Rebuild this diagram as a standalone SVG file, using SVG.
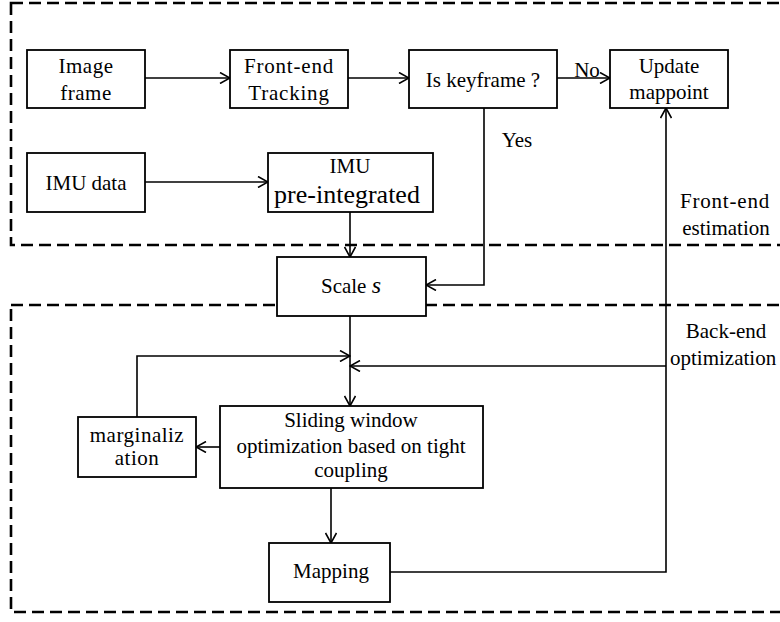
<svg xmlns="http://www.w3.org/2000/svg" width="780" height="622" viewBox="0 0 780 622">
<defs>
<marker id="ah" viewBox="0 0 12 12" refX="11" refY="6" markerWidth="12" markerHeight="12" markerUnits="userSpaceOnUse" orient="auto">
<path d="M1,0.5 L11,6 L1,11.5" fill="none" stroke="#000" stroke-width="1.6"/>
</marker>
<style>
.box{fill:#fff;stroke:#000;stroke-width:1.8}
.dash{fill:none;stroke:#000;stroke-width:2.6;stroke-dasharray:12 6}
.t{font-family:"Liberation Serif","Times New Roman",serif;font-size:21px;fill:#000;text-anchor:middle}
.s{text-anchor:start}
.big{font-size:26px}
.c{fill:none;stroke:#000;stroke-width:1.6}
.a{marker-end:url(#ah)}
</style>
</defs>
<rect width="780" height="622" fill="#fff"/>
<g id="regions">
<rect class="dash" x="11" y="3" width="790" height="242"/>
<rect class="dash" x="11" y="305" width="790" height="307"/>
</g>
<g id="connectors">
<path class="c a" d="M145,78 H230"/>
<path class="c a" d="M348,78 H409"/>
<path class="c a" d="M557,78 H610"/>
<path class="c a" d="M484,108 V285 H426"/>
<path class="c a" d="M145,182 H268"/>
<path class="c a" d="M350,212 V257"/>
<path class="c a" d="M350,316 V406"/>
<path class="c a" d="M220,447 H196"/>
<path class="c a" d="M137,417 V356 H350"/>
<path class="c a" d="M666,366 H350"/>
<path class="c a" d="M331,488 V543"/>
<path class="c a" d="M390,572 H666 V108"/>
</g>
<g id="n-image">
<rect class="box" x="27" y="50" width="118" height="58"/>
<text class="t" x="86" y="73" letter-spacing="0.5">Image</text>
<text class="t" x="86" y="100" letter-spacing="0.5">frame</text>
</g>
<g id="n-frontend">
<rect class="box" x="230" y="50" width="118" height="58"/>
<text class="t" x="289" y="73" letter-spacing="0.8">Front-end</text>
<text class="t" x="289" y="100" letter-spacing="0.8">Tracking</text>
</g>
<g id="n-keyframe">
<rect class="box" x="409" y="50" width="148" height="58"/>
<text class="t" x="483" y="87">Is keyframe ?</text>
</g>
<g id="n-update">
<rect class="box" x="610" y="50" width="118" height="58"/>
<text class="t" x="669" y="73">Update</text>
<text class="t" x="669" y="99">mappoint</text>
</g>
<g id="labels">
<text class="t" x="587" y="77">No</text>
<text class="t" x="517" y="147">Yes</text>
<text class="t" x="725" y="208" letter-spacing="0.8">Front-end</text>
<text class="t" x="726" y="235">estimation</text>
<text class="t" x="726" y="338">Back-end</text>
<text class="t s" x="670" y="365">optimization</text>
</g>
<g id="n-imudata">
<rect class="box" x="27" y="153" width="118" height="59"/>
<text class="t" x="86" y="190">IMU data</text>
</g>
<g id="n-imupre">
<rect class="box" x="268" y="153" width="165" height="59"/>
<text class="t" x="350" y="173">IMU</text>
<text class="t big" x="347" y="203">pre-integrated</text>
</g>
<g id="n-scale">
<rect class="box" x="277" y="257" width="149" height="59"/>
<text class="t" x="351" y="293">Scale <tspan font-style="italic" font-size="24">s</tspan></text>
</g>
<g id="n-sliding">
<rect class="box" x="220" y="406" width="263" height="82"/>
<text class="t" x="351" y="427">Sliding window</text>
<text class="t" x="351" y="453">optimization based on tight</text>
<text class="t" x="351" y="477">coupling</text>
</g>
<g id="n-marg">
<rect class="box" x="78" y="417" width="118" height="60"/>
<text class="t" x="137" y="442" letter-spacing="0.5">marginaliz</text>
<text class="t" x="137" y="465" letter-spacing="0.5">ation</text>
</g>
<g id="n-mapping">
<rect class="box" x="269" y="543" width="121" height="59"/>
<text class="t" x="331" y="578">Mapping</text>
</g>
</svg>
